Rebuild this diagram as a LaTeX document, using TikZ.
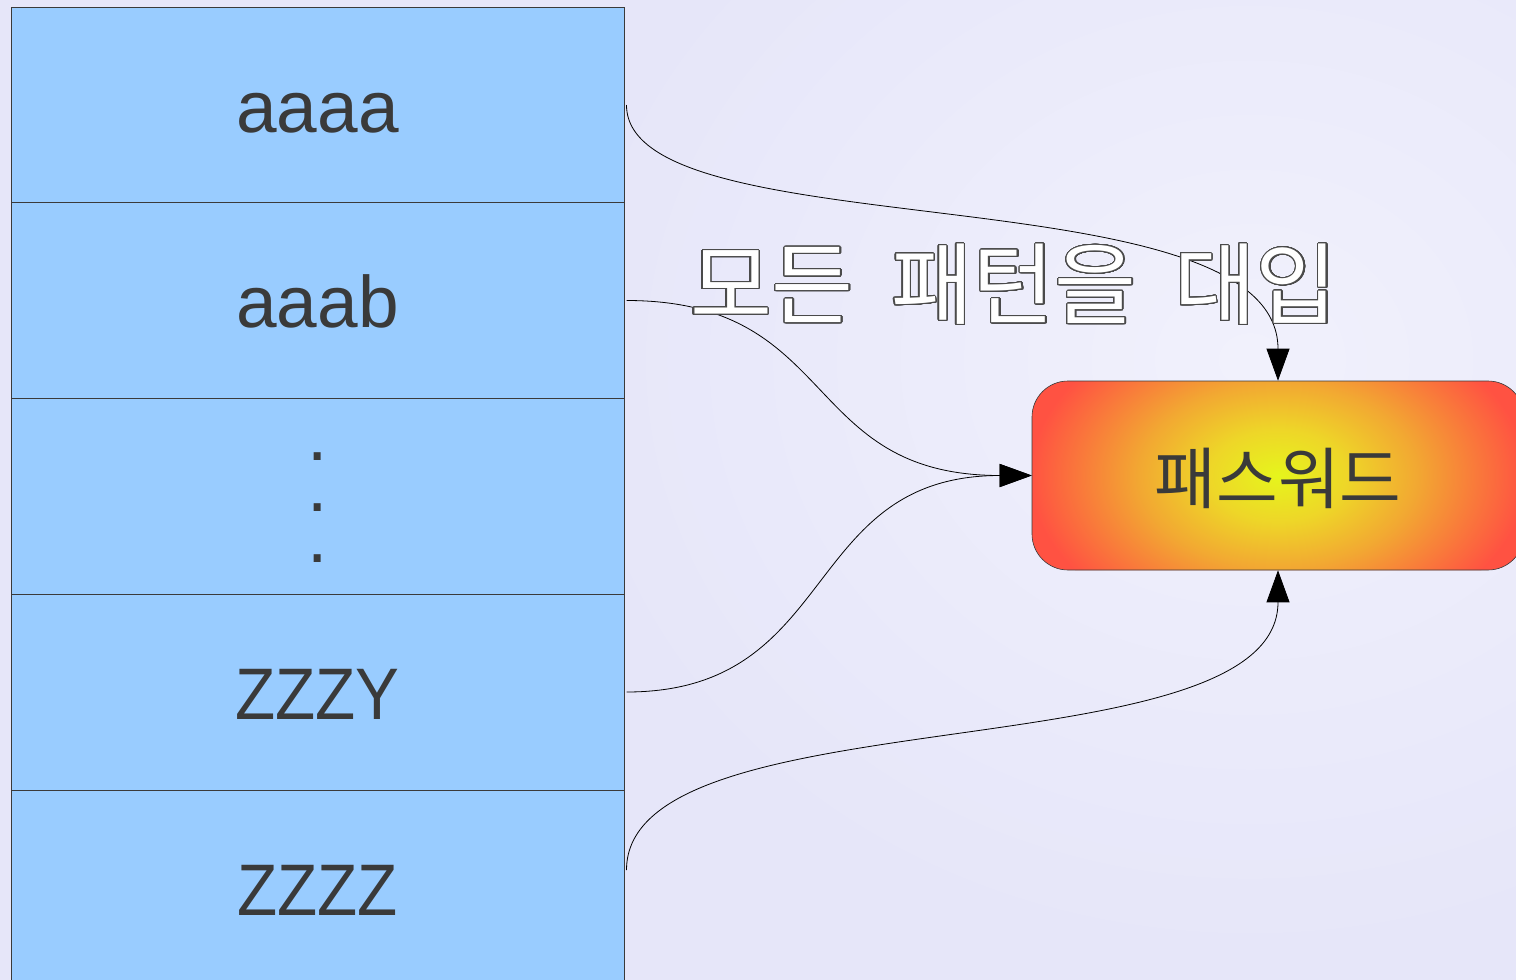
\documentclass[tikz,border=0pt]{standalone}
\usepackage{fontspec}
\setmainfont{Liberation Sans}
\newfontfamily\narrowsans{Liberation Sans}[FakeStretch=0.9]
\newfontfamily\kr{Noto Sans CJK KR}
\usepackage{contour}
\contournumber{48}
\contourlength{1.1pt}
\usetikzlibrary{arrows.meta}
\definecolor{bgA}{HTML}{F1F1FC}
\definecolor{bgB}{HTML}{E6E6F9}
\definecolor{cellblue}{HTML}{99CCFF}
\definecolor{ink}{HTML}{3A3A3A}
\definecolor{outl}{HTML}{4A4A4A}
\definecolor{pwY}{HTML}{E6F51C}
\definecolor{pwL}{HTML}{EED628}
\definecolor{pwO}{HTML}{F2A832}
\definecolor{pwR}{HTML}{FF5242}
\pgfdeclareradialshading{pwshade}{\pgfpoint{0bp}{0bp}}{color(0bp)=(pwY); color(7bp)=(pwL); color(14bp)=(pwO); color(25bp)=(pwR)}
\tikzset{
  cell/.style={draw=ink, line width=1pt, fill=cellblue, minimum width=613pt, minimum height=196pt, inner sep=0pt,
    text=ink, font=\fontsize{73}{80}\selectfont, text height=66pt, text depth=12pt},
  pwbox/.style={draw=ink, line width=0.6pt, rounded corners=36pt, fill=pwR, minimum width=492pt, minimum height=189pt,
    inner sep=0pt, text=ink, font=\kr\fontsize{67}{75}\selectfont, text height=56pt, text depth=0pt,
    path picture={\shade[shading=pwshade] (path picture bounding box.center) ellipse [x radius=248pt, y radius=165pt];}},
  conn/.style={draw=black, line width=0.8pt, -{Triangle[length=32pt,width=23pt]}},
  biglabel/.style={text=white, font=\kr\fontsize{89}{100}\selectfont, inner sep=0pt}
}
\begin{document}
\begin{tikzpicture}[x=1pt,y=-1pt]
\useasboundingbox (0,0) rectangle (1516,980);
\fill[bgB] (0,0) rectangle (1516,980);
\shade[inner color=bgA, outer color=bgB] (1250,360) ellipse [x radius=700pt, y radius=600pt];

\node[cell] (c1) at (317.5,105) {aaaa};
\node[cell] (c2) at (317.5,300.5) {aaab};
\node[cell, text height=133pt, text depth=0pt] (c3) at (317.5,496) {\vbox{\baselineskip=51pt\lineskiplimit=-100pt\hbox{.}\hbox{.}\hbox{.}}};
\node[cell, font=\narrowsans\fontsize{73}{80}\selectfont] (c4) at (317.5,692) {ZZZY};
\node[cell, font=\narrowsans\fontsize{73}{80}\selectfont] (c5) at (317.5,888) {ZZZZ};

\node[pwbox] (pw) at (1278,475.5) {패스워드};

\coordinate (s1) at ([xshift=2pt]c1.east);
\coordinate (s2) at ([xshift=2pt]c2.east);
\coordinate (s4) at ([xshift=2pt]c4.east);
\coordinate (s5) at ([xshift=2pt,yshift=18pt]c5.east);

\draw[conn] (s1) .. controls +(0,146) and +(0,-211) .. (pw.north);
\draw[conn] (s2) .. controls +(214,0) and +(-232,0) .. (pw.west);
\draw[conn] (s4) .. controls +(214,0) and +(-232,0) .. (pw.west);
\draw[conn] (s5) .. controls +(0,-178) and +(0,205) .. (pw.south);

\node[biglabel] (lab) at (1014,285) {\contour{outl}{모든\hspace{0.42em}패턴을\hspace{0.42em}대입}};
\end{tikzpicture}
\end{document}
